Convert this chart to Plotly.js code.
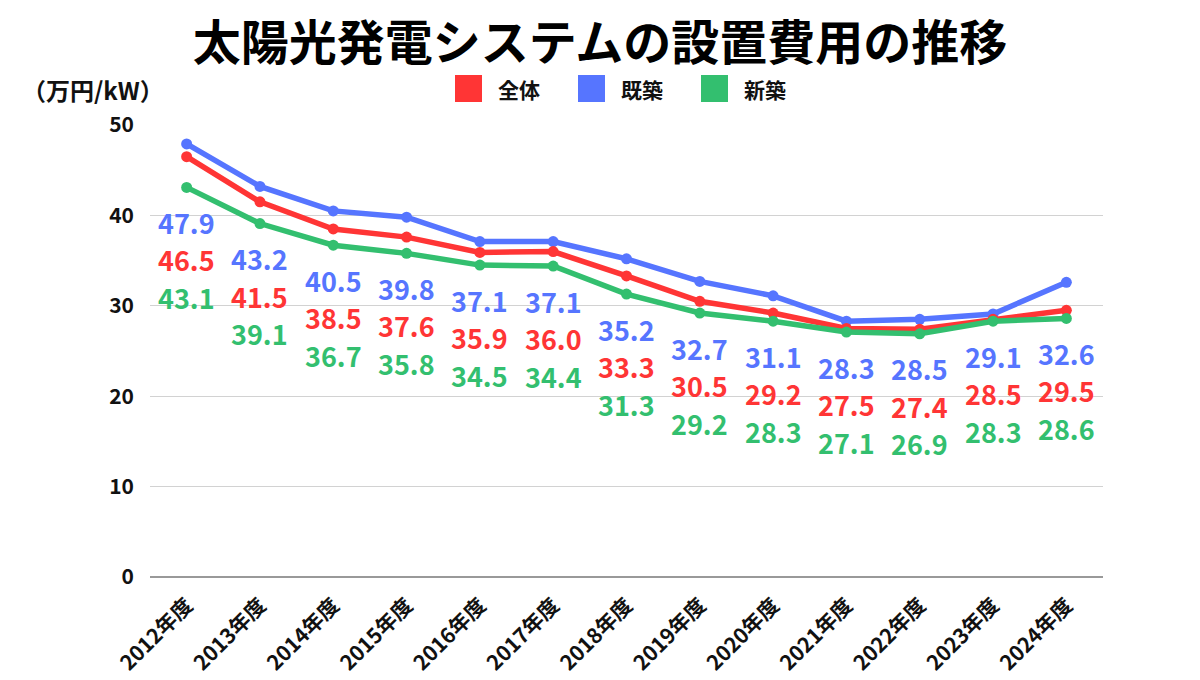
<!DOCTYPE html>
<html>
<head>
<meta charset="utf-8">
<script src="https://cdn.plot.ly/plotly-3.0.1.min.js"></script>
<style>html,body{margin:0;padding:0;background:#fff;}#chart{width:1200px;height:680px;}</style>
</head>
<body>
<div id="chart"></div>
<script>
const years = ["2012年度","2013年度","2014年度","2015年度","2016年度","2017年度","2018年度","2019年度","2020年度","2021年度","2022年度","2023年度","2024年度"];
const zentai = [46.5,41.5,38.5,37.6,35.9,36.0,33.3,30.5,29.2,27.5,27.4,28.5,29.5];
const kichiku = [47.9,43.2,40.5,39.8,37.1,37.1,35.2,32.7,31.1,28.3,28.5,29.1,32.6];
const shinchiku = [43.1,39.1,36.7,35.8,34.5,34.4,31.3,29.2,28.3,27.1,26.9,28.3,28.6];
const seriesNames = ["全体","既築","新築"];
const titleText = "太陽光発電システムの設置費用の推移";
const unitText = "（万円/kW）";

const RED = "#FF3535", BLUE = "#5675FF", GREEN = "#33BF6F";
const FONT = "Noto Sans CJK JP";

const W = 1200, H = 680;
const M = {l:150, r:97, t:125, b:103};
const pw = W - M.l - M.r, ph = H - M.t - M.b;
const px = x => (x - M.l) / pw;
const py = y => (H - M.b - y) / ph;

function trace(name, vals, color) {
  return {
    type: "scatter", mode: "lines+markers", name: name,
    x: years, y: vals,
    line: {color: color, width: 5.5},
    marker: {color: color, size: 11},
    showlegend: false, hoverinfo: "skip"
  };
}
const data = [
  trace(seriesNames[1], kichiku, BLUE),
  trace(seriesNames[0], zentai, RED),
  trace(seriesNames[2], shinchiku, GREEN)
];

const annotations = [];
years.forEach((yr, i) => {
  const base = Math.min(zentai[i], kichiku[i], shinchiku[i]);
  const rows = [[kichiku[i], BLUE], [zentai[i], RED], [shinchiku[i], GREEN]];
  rows.forEach((r, k) => {
    annotations.push({
      x: yr, y: base, xref: "x", yref: "y",
      text: r[0].toFixed(1), showarrow: false,
      yshift: -35 - 37.5 * k, xanchor: "center", yanchor: "middle",
      font: {family: FONT, size: 27, color: r[1], weight: 700}
    });
  });
});

// unit label
annotations.push({
  xref: "paper", yref: "paper", x: px(20), y: py(90),
  xanchor: "left", yanchor: "middle", showarrow: false,
  text: unitText, font: {family: FONT, size: 24, color: "#111", weight: 700}
});

// legend (manual)
const shapes = [];
const legendItems = [[seriesNames[0], RED, 455], [seriesNames[1], BLUE, 578], [seriesNames[2], GREEN, 701]];
legendItems.forEach(it => {
  shapes.push({
    type: "rect", xref: "paper", yref: "paper",
    x0: px(it[2]), x1: px(it[2] + 27), y0: py(102), y1: py(75),
    fillcolor: it[1], line: {width: 0}
  });
  annotations.push({
    xref: "paper", yref: "paper", x: px(it[2] + 41), y: py(89),
    xanchor: "left", yanchor: "middle", showarrow: false,
    text: it[0], font: {family: FONT, size: 21, color: "#111", weight: 700}
  });
});

const layout = {
  width: W, height: H,
  margin: M,
  paper_bgcolor: "#fff", plot_bgcolor: "#fff",
  font: {family: FONT, color: "#111"},
  title: {
    text: titleText, xref: "container", yref: "container",
    x: 0.5, y: 1 - 43 / H, xanchor: "center", yanchor: "middle",
    font: {family: FONT, size: 48, color: "#000", weight: 700}
  },
  showlegend: false,
  xaxis: {
    type: "category", range: [-0.5, 12.5],
    tickangle: -45, showgrid: false, zeroline: false,
    showline: false, ticks: "", ticklabelstandoff: 11,
    tickfont: {family: FONT, size: 21, color: "#111", weight: 700},
    fixedrange: true
  },
  yaxis: {
    range: [0, 50], dtick: 10, tick0: 0,
    showgrid: true, gridcolor: "#d2d2d2", gridwidth: 1,
    zeroline: true, zerolinecolor: "#999", zerolinewidth: 1.5,
    showline: false, ticks: "", ticklabelstandoff: 15,
    tickfont: {family: FONT, size: 21, color: "#111", weight: 700},
    fixedrange: true
  },
  annotations: annotations,
  shapes: shapes
};

Plotly.newPlot("chart", data, layout, {displayModeBar: false, staticPlot: true});
</script>
</body>
</html>
